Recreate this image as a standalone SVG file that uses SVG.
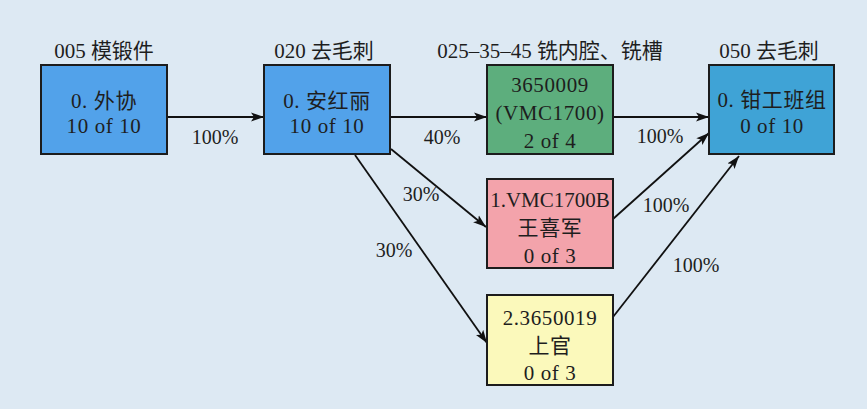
<svg xmlns="http://www.w3.org/2000/svg" width="867" height="409" viewBox="0 0 867 409">
<defs>
<style>
.bg{fill:#dde9f3}
.box{stroke:#1c1c1c;stroke-width:2}
.t{font-family:"Liberation Serif","Noto Sans CJK SC",serif;font-size:21px;fill:#1e1e1e;text-anchor:middle}
.nt{letter-spacing:0.6px}
.title{font-size:21px}
.lbl{font-size:20px}
.edge{stroke:#111;stroke-width:1.8;fill:none;marker-end:url(#arr)}
</style>
<marker id="arr" markerUnits="userSpaceOnUse" markerWidth="14" markerHeight="10" refX="13" refY="5" orient="auto">
<path d="M0,0.5 L13,5 L0,9.5 L3,5 Z" fill="#111"/>
</marker>
</defs>
<rect class="bg" x="0" y="0" width="867" height="409"/>

<g id="titles">
<text class="t title" x="104" y="58">005 模锻件</text>
<text class="t title" x="324" y="58">020 去毛刺</text>
<text class="t title" x="550" y="58">025–35–45 铣内腔、铣槽</text>
<text class="t title" x="769" y="58">050 去毛刺</text>
</g>

<g id="connectors">
<path class="edge" d="M167,117 L264,117"/>
<path class="edge" d="M390,117 L487,117"/>
<path class="edge" d="M614,117 L709,117"/>
<path class="edge" d="M391,149 L486,227"/>
<path class="edge" d="M355,155 L487,343"/>
<path class="edge" d="M613,219 L709,133"/>
<path class="edge" d="M613,317 L739,156"/>
<text class="t lbl" x="215" y="144">100%</text>
<text class="t lbl" x="442" y="144">40%</text>
<text class="t lbl" x="660" y="143">100%</text>
<text class="t lbl" x="421" y="201">30%</text>
<text class="t lbl" x="394" y="257">30%</text>
<text class="t lbl" x="666" y="212">100%</text>
<text class="t lbl" x="696" y="272">100%</text>
</g>

<g id="node-waixie">
<rect class="box" x="41" y="65" width="126" height="89" fill="#52a2ea"/>
<text class="t nt" x="104" y="108">0. 外协</text>
<text class="t nt" x="104" y="133">10 of 10</text>
</g>

<g id="node-anhongli">
<rect class="box" x="264" y="65" width="126" height="89" fill="#52a2ea"/>
<text class="t nt" x="327" y="108">0. 安红丽</text>
<text class="t nt" x="327" y="133">10 of 10</text>
</g>

<g id="node-3650009">
<rect class="box" x="487" y="65" width="126" height="89" fill="#5dae7d"/>
<text class="t nt" x="550" y="92">3650009</text>
<text class="t nt" x="550" y="120">(VMC1700)</text>
<text class="t nt" x="550" y="148">2 of 4</text>
</g>

<g id="node-qiangong">
<rect class="box" x="709" y="65" width="125" height="89" fill="#3fa3d6"/>
<text class="t nt" x="772" y="107">0. 钳工班组</text>
<text class="t nt" x="772" y="133">0 of 10</text>
</g>

<g id="node-vmc1700b">
<rect class="box" x="487" y="179" width="126" height="89" fill="#f3a3ab"/>
<text class="t" x="550" y="207" font-size="20">1.VMC1700B</text>
<text class="t nt" x="550" y="235">王喜军</text>
<text class="t nt" x="550" y="263">0 of 3</text>
</g>

<g id="node-3650019">
<rect class="box" x="487" y="295" width="126" height="90" fill="#fbf9bb"/>
<text class="t nt" x="550" y="325">2.3650019</text>
<text class="t nt" x="550" y="353">上官</text>
<text class="t nt" x="550" y="380">0 of 3</text>
</g>
</svg>
